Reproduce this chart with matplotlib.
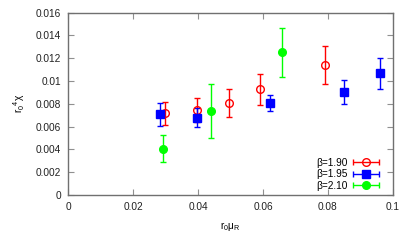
import numpy as np
import matplotlib
matplotlib.use("Agg")
import matplotlib.pyplot as plt
from matplotlib.container import ErrorbarContainer
from matplotlib.legend_handler import HandlerErrorbar

plt.rcParams["font.family"] = ["Liberation Sans", "DejaVu Sans"]
plt.rcParams["mathtext.fontset"] = "custom"
plt.rcParams["mathtext.rm"] = "Liberation Sans"
plt.rcParams["mathtext.it"] = "Liberation Sans"
plt.rcParams["font.size"] = 7.3

# beta = 1.90
x_190 = [0.0298, 0.0396, 0.0494, 0.0592, 0.0790]
y_190 = [0.00717, 0.00746, 0.00810, 0.00928, 0.01141]
e_190 = [0.00102, 0.00106, 0.00123, 0.00138, 0.00167]

# beta = 1.95
x_195 = [0.0283, 0.0396, 0.0622, 0.0848, 0.0961]
y_195 = [0.00708, 0.00678, 0.00805, 0.00907, 0.01068]
e_195 = [0.00102, 0.00084, 0.00070, 0.00104, 0.00137]

# beta = 2.10
x_210 = [0.0293, 0.0440, 0.0658]
y_210 = [0.00406, 0.00737, 0.01252]
e_210 = [0.00118, 0.00240, 0.00215]

series = [
    ("β=1.90", x_190, y_190, e_190, "#ff0000", "o", "none", 5.5),
    ("β=1.95", x_195, y_195, e_195, "#0000ff", "s", "#0000ff", 5.5),
    ("β=2.10", x_210, y_210, e_210, "#00ff00", "o", "#00ff00", 5.5),
]

fig = plt.figure(figsize=(4.07, 2.44), dpi=100)
ax = fig.add_axes([0.167, 0.2008, 0.7986, 0.7472])

handles = []
for label, xs, ys, es, color, marker, face, ms in series:
    ax.errorbar(xs, ys, yerr=es, fmt=marker, color=color, mfc=face, mec=color,
                ms=ms, mew=1.0, elinewidth=1.0, capsize=2.5, capthick=1.0)
    # proxy for the gnuplot-like legend sample (horizontal bar with caps)
    h = ax.errorbar([np.nan], [np.nan], xerr=[1], fmt=marker, color=color,
                    mfc=face, mec=color, ms=ms, mew=1.0, elinewidth=1.0,
                    capsize=2.5, capthick=1.0, label=label)
    handles.append(h)

ax.set_xlim(0, 0.1)
ax.set_ylim(0, 0.016)
ax.set_xticks([0, 0.02, 0.04, 0.06, 0.08, 0.1])
ax.set_xticklabels(["0", "0.02", "0.04", "0.06", "0.08", "0.1"])
yt = [0, 0.002, 0.004, 0.006, 0.008, 0.01, 0.012, 0.014, 0.016]
ax.set_yticks(yt)
ax.set_yticklabels(["0", "0.002", "0.004", "0.006", "0.008", "0.01",
                    "0.012", "0.014", "0.016"])

for s in ax.spines.values():
    s.set_color("#707070")
    s.set_linewidth(1.0)
ax.tick_params(direction="in", top=True, right=True, length=4,
               width=0.8, color="#909090", labelcolor="#222222", pad=5)

ax.set_xlabel(r"r$_0$μ$_R$", labelpad=6)
ax.set_ylabel(r"r$_0$$^4$χ", labelpad=6)

ax.legend(handles=handles, loc="lower right", bbox_to_anchor=(0.963, 0.022),
          markerfirst=False, frameon=False, handlelength=2.9,
          handletextpad=0.4, labelspacing=0.15, borderaxespad=0.0,
          borderpad=0.0,
          handler_map={ErrorbarContainer: HandlerErrorbar(xerr_size=1.3)})

fig.savefig("out.png", dpi=100)
